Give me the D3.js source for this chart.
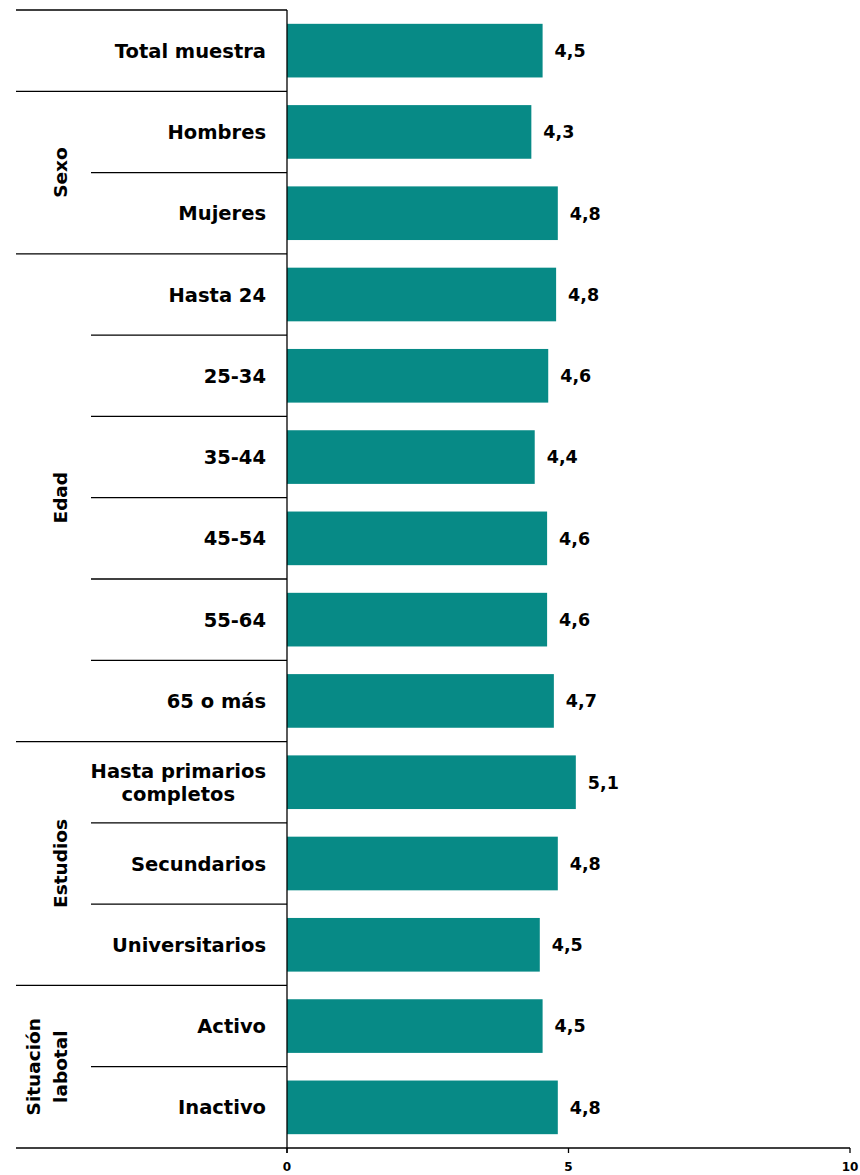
<!DOCTYPE html>
<html><head><meta charset="utf-8">
<script src="https://cdn.jsdelivr.net/npm/d3@7"></script>
<style>body{margin:0;background:#fff}svg{display:block}text{font-family:"DejaVu Sans",Verdana,sans-serif;font-weight:bold;fill:#000}</style>
</head><body><svg id="c" width="860" height="1175"></svg>
<script>
const categories = ["Total muestra","Hombres","Mujeres","Hasta 24","25-34","35-44","45-54","55-64","65 o más","Hasta primarios|completos","Secundarios","Universitarios","Activo","Inactivo"];
const values = [4.54,4.34,4.81,4.78,4.64,4.40,4.62,4.62,4.74,5.13,4.81,4.49,4.54,4.81];
const groups = [
  {name:["Sexo"], start:1, end:3},
  {name:["Edad"], start:3, end:9},
  {name:["Estudios"], start:9, end:12},
  {name:["Situación","labotal"], start:12, end:14}
];
const groupBoundaries = [0,1,3,9,12];
const xTicks = [0,5,10];

const svg = d3.select("#c");
const x = d3.scaleLinear().domain([0,10]).range([287,850]);
const y = d3.scaleBand().domain(d3.range(categories.length)).range([10,1148]).paddingInner(0.34).paddingOuter(0.17);
const rowTop = i => 10 + i*(1138/categories.length);

// bars
svg.selectAll("rect.bar").data(values).join("rect")
  .attr("x", x(0)).attr("y",(d,i)=>y(i)).attr("width",d=>x(d)-x(0)).attr("height",y.bandwidth())
  .attr("fill","#078a86");

// value labels
svg.selectAll("text.val").data(values).join("text")
  .attr("x",d=>x(d)+12).attr("y",(d,i)=>y(i)+y.bandwidth()/2).attr("dy","0.36em")
  .style("font-size","17.5px").text(d=>d3.format(".1f")(d).replace(".",","));

// separators
for(let k=0;k<categories.length;k++){
  const yy = rowTop(k);
  const x0 = groupBoundaries.includes(k) ? 16 : 91;
  svg.append("line").attr("x1",x0).attr("x2",x(0)).attr("y1",yy).attr("y2",yy).attr("stroke","#000").attr("stroke-width",1.3);
}
// axis
const axisY = rowTop(categories.length);
svg.append("line").attr("x1",16).attr("x2",x(10)).attr("y1",axisY).attr("y2",axisY).attr("stroke","#000").attr("stroke-width",1.3);
svg.append("line").attr("x1",x(0)).attr("x2",x(0)).attr("y1",10).attr("y2",axisY+5).attr("stroke","#000").attr("stroke-width",1.3);
xTicks.forEach(t=>{
  svg.append("line").attr("x1",x(t)).attr("x2",x(t)).attr("y1",axisY).attr("y2",axisY+5).attr("stroke","#000").attr("stroke-width",1.3);
  svg.append("text").attr("x",x(t)).attr("y",axisY+23).attr("text-anchor","middle").style("font-size","12px").text(t);
});

// category labels
categories.forEach((c,i)=>{
  const lines = c.split("|");
  const cy = y(i)+y.bandwidth()/2;
  const t = svg.append("text").style("font-size","19.5px").attr("text-anchor","middle");
  lines.forEach((l,j)=>t.append("tspan").attr("x",0).attr("y",cy + (j-(lines.length-1)/2)*23).attr("dy","0.36em").text(l));
  const w = t.node().getBBox().width;
  t.selectAll("tspan").attr("x",266 - w/2);
});

// group labels
groups.forEach(g=>{
  const cy = (rowTop(g.start)+rowTop(g.end))/2;
  const n = g.name.length;
  const t = svg.append("text").style("font-size","18.5px").attr("text-anchor","middle")
    .attr("transform",`translate(${60},${cy}) rotate(-90)`);
  g.name.forEach((l,j)=>t.append("tspan").attr("x",0).attr("y",(j-(n-1))*27).attr("dy","0.36em").text(l));
});
</script></body></html>
